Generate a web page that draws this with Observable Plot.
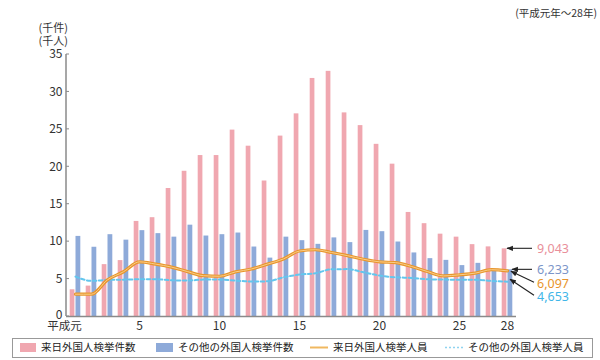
<!DOCTYPE html>
<html><head><meta charset="utf-8">
<script src="https://cdn.jsdelivr.net/npm/d3@7"></script>
<script src="https://cdn.jsdelivr.net/npm/@observablehq/plot@0.6"></script>
<style>body{margin:0;background:#fff;} svg{display:block}</style>
</head><body><div id="chart"></div><script>
const years = [1,2,3,4,5,6,7,8,9,10,11,12,13,14,15,16,17,18,19,20,21,22,23,24,25,26,27,28];
const tickYears = [1,5,10,15,20,25,28];
const yTicks = [0,5,10,15,20,25,30,35];
// 来日外国人検挙件数 (千件)
const raiCases = [3.57,4.06,6.93,7.47,12.7,13.2,17.1,19.4,21.5,21.5,24.9,22.75,18.1,24.1,27.07,31.8,32.75,27.2,25.5,23.0,20.35,13.9,12.4,11.0,10.6,9.6,9.3,9.043];
// その他の外国人検挙件数 (千件)
const otherCases = [10.7,9.25,10.93,10.2,11.47,11.07,10.6,12.2,10.75,10.93,11.15,9.28,7.8,10.6,10.13,9.64,10.5,9.87,11.5,11.33,9.95,8.49,7.73,7.5,6.8,7.1,6.13,6.233];
// 来日外国人検挙人員 (千人)
const raiPersons = [2.98,2.98,4.9,5.98,7.3,7.0,6.6,6.0,5.45,5.38,5.96,6.35,7.0,7.69,8.75,8.92,8.55,8.13,7.65,7.3,7.2,6.68,6.0,5.42,5.57,5.8,6.25,6.097];
// その他の外国人検挙人員 (千人)
const otherPersons = [5.33,4.76,4.88,4.92,4.97,4.97,4.85,4.8,4.93,4.93,4.8,4.67,4.7,5.24,5.6,5.78,6.3,6.33,5.9,5.47,5.24,5.15,4.98,4.93,4.9,4.9,4.75,4.653];
const legendLabels = ["来日外国人検挙件数","その他の外国人検挙件数","来日外国人検挙人員","その他の外国人検挙人員"];
const endLabels = ["9,043","6,233","6,097","4,653"];

const pink = "#f0a7b0", blue = "#8eaad9", orange = "#e8952c", orangeIn = "#fbd595", cyan = "#62c6ee";
const font = "'Noto Sans CJK JP', 'Noto Sans', sans-serif";

const data = years.map((y,i)=>({year:y, rc:raiCases[i], oc:otherCases[i], rp:raiPersons[i], op:otherPersons[i]}));

const plot = Plot.plot({
  width:600, height:360, marginLeft:66, marginRight:84, marginTop:54, marginBottom:44,
  style:{fontFamily:font, fontSize:"12px", color:"#333", background:"#fff"},
  x:{type:"band", domain:years, padding:0, label:null},
  y:{domain:[0,35], label:null},
  marks:[
    Plot.barY(data,{x:"year", y:"rc", fill:pink, insetLeft:2.7, insetRight:8.6}),
    Plot.barY(data,{x:"year", y:"oc", fill:blue, insetLeft:8.5, insetRight:2.7}),
    Plot.ruleY([0],{stroke:"#8a8a8a", strokeWidth:1.5}),
    Plot.line(data,{x:"year", y:"op", stroke:cyan, strokeWidth:2, strokeDasharray:"3.5,2.5", curve:"monotone-x"}),
    Plot.line(data,{x:"year", y:"rp", stroke:orange, strokeWidth:3.2, curve:"monotone-x"}),
    Plot.line(data,{x:"year", y:"rp", stroke:orangeIn, strokeWidth:0.9, curve:"monotone-x"}),
    Plot.axisX({ticks:tickYears, tickSize:0, tickPadding:5, tickFormat:d=> d===1 ? "平成元" : String(d), label:null, fontSize:12}),
    Plot.axisY({ticks:yTicks, tickSize:0, tickPadding:4, label:null, fontSize:12})
  ]
});
document.getElementById("chart").append(plot);

const svg = d3.select(plot);
const xs = plot.scale("x"), ys = plot.scale("y");
const x0 = xs.range[0];
const bw = xs.bandwidth;
const xc = v => xs.apply(v) + bw/2;
const Y = v => ys.apply(v);

// shift 平成元 label and raise the 0 label
svg.selectAll("g[aria-label='x-axis tick label'] text").filter(function(){return this.textContent==="平成元";}).attr("dx", -11).attr("font-size", 11.5);
svg.selectAll("g[aria-label='y-axis tick label'] text").filter(function(){return this.textContent==="0";}).attr("dy", "-0.08em");

// y axis line and inward ticks
svg.append("line").attr("x1",x0).attr("x2",x0).attr("y1",Y(0)).attr("y2",Y(35)).attr("stroke","#8a8a8a").attr("stroke-width",1.5);
yTicks.forEach(t=>{ svg.append("line").attr("x1",x0).attr("x2",x0+3).attr("y1",Y(t)).attr("y2",Y(t)).attr("stroke","#8a8a8a"); });

function txt(x,y,t,opts={}){
  return svg.append("text").attr("x",x).attr("y",y).attr("text-anchor",opts.anchor||"start")
    .attr("font-size",opts.size||11).attr("font-family",opts.font||font).attr("fill",opts.fill||"#333")
    .attr("dy",opts.dy||null).text(t);
}
// unit labels
txt(68, Y(35)-22, "(千件)", {anchor:"end", size:11});
txt(68, Y(35)-9, "(千人)", {anchor:"end", size:11});
txt(597, 17, "(平成元年～28年)", {anchor:"end", size:10.5});

// arrow marker
const defs = svg.append("defs");
defs.append("marker").attr("id","ah").attr("viewBox","0 0 10 10").attr("refX",9).attr("refY",5)
  .attr("markerWidth",6).attr("markerHeight",6).attr("orient","auto-start-reverse")
  .append("path").attr("d","M0,1 L10,5 L0,9 Z").attr("fill","#222");

const last = years[years.length-1];
const xe = xc(last);
const ann = [
  {tx:xe+25, ty:Y(raiCases[27]), hx:xe, hy:Y(raiCases[27]), ly:Y(raiCases[27]), col:"#e98f9a", t:endLabels[0]},
  {tx:xe+25, ty:Y(otherCases[27]), hx:xe+5, hy:Y(otherCases[27]), ly:Y(otherCases[27]), col:"#7c96c9", t:endLabels[1]},
  {tx:xe+27, ty:Y(otherCases[27])+13, hx:xe+4, hy:Y(raiPersons[27])+1, ly:Y(otherCases[27])+14, col:"#e8952c", t:endLabels[2]},
  {tx:xe+27, ty:Y(otherPersons[27])+14, hx:xe+3, hy:Y(otherPersons[27])-2, ly:Y(otherPersons[27])+15, col:"#3fb6e8", t:endLabels[3]}
];
ann.forEach(a=>{
  svg.append("line").attr("x1",a.tx).attr("y1",a.ty).attr("x2",a.hx).attr("y2",a.hy)
    .attr("stroke","#222").attr("stroke-width",1.1).attr("marker-end","url(#ah)");
  txt(xe+30, a.ly, a.t, {size:12.5, font:"'Noto Sans', sans-serif", fill:a.col, dy:"0.36em"});
});

// legend
const ly = 347.5;
svg.append("rect").attr("x",12.5).attr("y",338.5).attr("width",580).attr("height",19).attr("fill","none").attr("stroke","#999").attr("stroke-width",1);
svg.append("rect").attr("x",20).attr("y",ly-4.5).attr("width",16).attr("height",9).attr("fill",pink);
svg.append("rect").attr("x",156).attr("y",ly-4.5).attr("width",17).attr("height",9).attr("fill",blue);
svg.append("line").attr("x1",310).attr("x2",328).attr("y1",ly).attr("y2",ly).attr("stroke","#f0b860").attr("stroke-width",2);
svg.append("line").attr("x1",445).attr("x2",463).attr("y1",ly).attr("y2",ly).attr("stroke","#8fd3f0").attr("stroke-width",1.5).attr("stroke-dasharray","2,2");
[[41,legendLabels[0]],[178,legendLabels[1]],[333,legendLabels[2]],[468,legendLabels[3]]].forEach(([x,t])=>{
  txt(x, ly, t, {size:10.5, fill:"#222", dy:"0.36em"});
});
</script></body></html>
